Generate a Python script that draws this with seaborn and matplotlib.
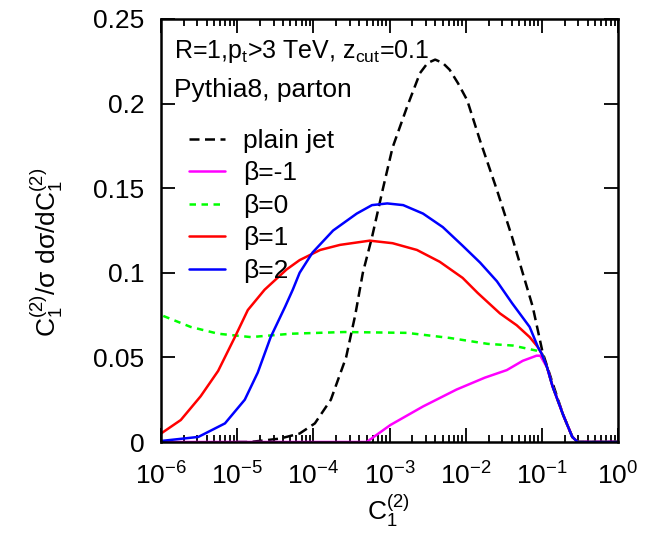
import numpy as np
import pandas as pd
import matplotlib
matplotlib.use("Agg")
import matplotlib.pyplot as plt
import seaborn as sns
from matplotlib.ticker import LogLocator, FixedLocator, FuncFormatter, NullFormatter, NullLocator

# ---- data (x given as log10 of C1^(2)) ----
plain_logc = [-5.0, -4.83, -4.44, -4.18, -3.98, -3.77, -3.57, -3.45, -3.35, -3.23, -3.09,
              -2.96, -2.77, -2.60, -2.50, -2.40, -2.30, -2.21, -2.10, -1.98, -1.81, -1.59,
              -1.39, -1.12, -0.99, -0.86, -0.72, -0.60, -0.53, -0.40, 0.0]
plain_val = [0.0, 0.0, 0.002, 0.005, 0.011, 0.025, 0.050, 0.075, 0.100, 0.121, 0.149,
             0.174, 0.198, 0.218, 0.224, 0.226, 0.224, 0.220, 0.212, 0.202, 0.178, 0.149,
             0.121, 0.080, 0.053, 0.035, 0.016, 0.003, 0.0, 0.0, 0.0]

bm1_logc = [-6.0, -3.30, -2.99, -2.56, -2.12, -1.75, -1.46, -1.25, -1.07, -1.02, -0.93,
            -0.86, -0.72, -0.60, -0.53, 0.0]
bm1_val = [0.0, 0.0, 0.010, 0.021, 0.031, 0.038, 0.0425, 0.048, 0.051, 0.051, 0.044,
           0.033, 0.016, 0.003, 0.0, 0.0]

b0_logc = [-5.97, -5.61, -5.25, -4.82, -4.29, -3.59, -2.77, -2.21, -1.71, -1.38, -1.07,
           -1.00, -0.93, -0.86, -0.72, -0.60, -0.53, 0.0]
b0_val = [0.0745, 0.068, 0.064, 0.062, 0.064, 0.065, 0.0645, 0.0615, 0.058, 0.057, 0.054,
          0.0525, 0.044, 0.033, 0.016, 0.003, 0.0, 0.0]

b1_logc = [-6.0, -5.74, -5.48, -5.25, -5.03, -4.86, -4.64, -4.35, -4.18, -3.91, -3.65,
           -3.26, -2.96, -2.64, -2.34, -2.04, -1.84, -1.55, -1.33, -1.16, -1.05, -1.00,
           -0.93, -0.86, -0.72, -0.60, -0.53, 0.0]
b1_val = [0.005, 0.013, 0.027, 0.042, 0.062, 0.078, 0.090, 0.102, 0.1075, 0.1135, 0.1165,
          0.119, 0.1175, 0.1135, 0.1065, 0.097, 0.088, 0.076, 0.069, 0.062, 0.056, 0.052,
          0.044, 0.033, 0.016, 0.003, 0.0, 0.0]

b2_logc = [-6.0, -5.51, -5.16, -4.90, -4.73, -4.56, -4.37, -4.27, -4.18, -4.01, -3.74,
           -3.43, -3.23, -3.03, -2.82, -2.56, -2.30, -2.04, -1.81, -1.59, -1.39, -1.16,
           -1.05, -1.00, -0.93, -0.86, -0.72, -0.60, -0.53, 0.0]
b2_val = [0.0006, 0.003, 0.011, 0.025, 0.041, 0.062, 0.080, 0.090, 0.100, 0.112, 0.125,
          0.135, 0.140, 0.141, 0.140, 0.135, 0.127, 0.116, 0.106, 0.095, 0.082, 0.068,
          0.056, 0.052, 0.044, 0.033, 0.016, 0.003, 0.0, 0.0]

labels = ["plain jet", "β=-1", "β=0", "β=1", "β=2"]
colors = ["black", "#ff00ff", "#00ff00", "#ff0000", "#0000ff"]

x_ticks = [1e-6, 1e-5, 1e-4, 1e-3, 1e-2, 1e-1, 1e0]
y_ticks = [0, 0.05, 0.1, 0.15, 0.2, 0.25]

# ---- style ----
sns.set_style("ticks")
plt.rcParams["font.family"] = ["Liberation Sans", "DejaVu Sans"]
plt.rcParams["mathtext.fontset"] = "custom"
plt.rcParams["mathtext.rm"] = "Liberation Sans"
plt.rcParams["mathtext.it"] = "Liberation Sans"
plt.rcParams["mathtext.bf"] = "Liberation Sans:bold"
plt.rcParams["mathtext.sf"] = "Liberation Sans"
plt.rcParams.update({
    "text.color": "black", "axes.labelcolor": "black",
    "xtick.labelcolor": "black", "ytick.labelcolor": "black",
    "xtick.color": "black", "ytick.color": "black",
    "axes.edgecolor": "black", "axes.linewidth": 1.8,
})

FS = 19

fig = plt.figure(figsize=(6.51, 5.33), dpi=100)
ax = fig.add_axes([161 / 651, 1 - 442 / 533, 457 / 651, 423 / 533])

series = [
    (plain_logc, plain_val, (4, 2.2)),
    (bm1_logc, bm1_val, None),
    (b0_logc, b0_val, (2.6, 2.2)),
    (b1_logc, b1_val, None),
    (b2_logc, b2_val, None),
]
handles = []
for (lc, v, dash), lab, col in zip(series, labels, colors):
    df = pd.DataFrame({"c": 10.0 ** np.asarray(lc), "v": v})
    sns.lineplot(data=df, x="c", y="v", color=col, linewidth=1.8, ax=ax,
                 legend=False, sort=False)
    line = ax.lines[-1]
    if dash is not None:
        line.set_dashes(dash)
    line.set_label(lab)
    handles.append(line)

ax.set_xscale("log")
ax.set_xlim(1e-6, 1)
ax.set_ylim(0, 0.25)

ax.xaxis.set_major_locator(FixedLocator(x_ticks))
ax.xaxis.set_minor_locator(LogLocator(base=10, subs=np.arange(2, 10), numticks=20))
ax.xaxis.set_minor_formatter(NullFormatter())
ax.yaxis.set_major_locator(FixedLocator(y_ticks))
ax.yaxis.set_minor_locator(NullLocator())
ax.yaxis.set_major_formatter(FuncFormatter(lambda v, p: f"{v:g}"))

ax.tick_params(which="both", direction="in", top=True, right=True, bottom=True,
               left=True, width=1.3, color="black", labelcolor="black")
ax.tick_params(which="major", length=10)
ax.tick_params(which="minor", length=5)
ax.tick_params(axis="x", which="major", labelsize=FS, pad=15)
ax.tick_params(axis="y", which="major", labelsize=FS, pad=12)
for s in ax.spines.values():
    s.set_linewidth(1.8)
    s.set_color("black")
    s.set_visible(True)

ax.set_xlabel(r"C$_1^{(2)}$", fontsize=FS, color="black")
ax.xaxis.set_label_coords(0.497, -0.12)
ax.set_ylabel(r"C$_1^{(2)}$/σ dσ/dC$_1^{(2)}$", fontsize=FS, color="black")
ax.yaxis.set_label_coords(-0.21, 0.449)

ax.text(0.028, 0.908, r"R=1,p$_t$>3 TeV, z$_{cut}$=0.1", transform=ax.transAxes,
        fontsize=FS - 1, va="baseline", ha="left", color="black")
ax.text(0.028, 0.816, "Pythia8, parton", transform=ax.transAxes,
        fontsize=FS, va="baseline", ha="left", color="black")

leg = ax.legend(handles=handles, loc="upper left", bbox_to_anchor=(0.061, 0.740),
                frameon=False, fontsize=FS, handlelength=1.35, handletextpad=0.7,
                labelspacing=0.32, borderpad=0, borderaxespad=0, labelcolor="black")

fig.savefig("out.png", dpi=100)
